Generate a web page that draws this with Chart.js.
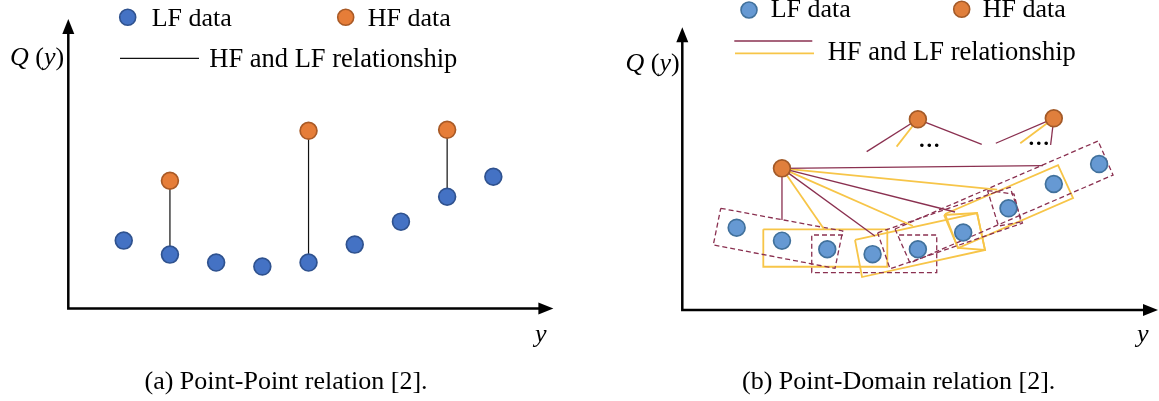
<!DOCTYPE html>
<html>
<head>
<meta charset="utf-8">
<script src="https://cdn.jsdelivr.net/npm/chart.js@4.4.1/dist/chart.umd.min.js"></script>
<style>
  html, body { margin: 0; padding: 0; background: #fff; }
  #wrap { position: relative; width: 1159px; height: 401px; overflow: hidden; background: #fff; }
  .panel { position: absolute; top: 0; height: 401px; }
</style>
</head>
<body>
<div id="wrap">
  <div class="panel" style="left:0;width:580px"><canvas id="pa" width="580" height="401"></canvas></div>
  <div class="panel" style="left:579px;width:580px"><canvas id="pb" width="580" height="401"></canvas></div>
</div>
<script>
// ---- Panel (a): point-point relation ----
const lfX = [1, 2, 3, 4, 5, 6, 7, 8, 9];
const lfQA = [6.8, 5.4, 4.6, 4.2, 4.6, 6.4, 8.7, 11.2, 13.2];
const hfXA = [2, 5, 8];
const hfQA = [12.8, 17.8, 17.9];

// ---- Panel (b): point-domain relation ----
const lfQB = [8.24, 6.94, 6.08, 5.59, 6.08, 7.76, 10.18, 12.61, 14.61];
const hfXB = [2, 5, 8];
const hfQB = [14.18, 19.09, 19.19];

// links: [HF index, end x, end Q]
const maroonEnds = [
  [0, 2.0, 9.01], [0, 4.05, 7.41], [0, 5.82, 9.81], [0, 7.76, 14.46],
  [1, 3.87, 15.85], [1, 6.41, 16.57],
  [2, 6.72, 16.69], [2, 7.93, 16.52]
];
const yellowEnds = [
  [0, 2.93, 8.08], [0, 4.89, 8.41], [0, 6.75, 12.06],
  [1, 4.53, 16.35],
  [2, 7.26, 16.69]
];

// LF domains as outlines (x / Q); closed ones repeat their first corner
const dashedDomains = [
  [[0.648, 10.18], [3.341, 7.91], [3.171, 4.17], [0.484, 6.51], [0.648, 10.18]],
  [[3.347, 7.51], [2.657, 7.51], [2.657, 3.75], [5.416, 3.75], [5.416, 7.51], [4.533, 7.51]],
  [[4.111, 7.73], [7.034, 12.29], [7.308, 8.69], [4.385, 4.12], [4.111, 7.73]],
  [[6.537, 11.96], [7.122, 11.61], [7.277, 8.81], [6.780, 8.41], [6.537, 11.96]],
  [[4.495, 8.11], [8.977, 16.92], [9.308, 13.51], [4.826, 4.70], [4.495, 8.11]]
];
const solidDomains = [
  [[1.588, 8.08], [4.325, 8.08], [4.325, 4.33], [1.588, 4.33], [1.588, 8.08]],
  [[3.612, 7.01], [6.306, 9.71], [6.482, 6.01], [3.767, 3.30], [3.612, 7.01]],
  [[5.577, 9.51], [6.306, 9.71], [6.482, 6.01], [5.886, 6.21], [5.577, 9.51]],
  [[5.599, 9.61], [8.094, 14.51], [8.425, 11.21], [5.886, 6.21], [5.599, 9.61]]
];
// "..." marks beside the upper HF points
const ellipsisAt = [[5.25, 16.62], [7.67, 16.75]];

const SERIF = '"Liberation Serif", "Times New Roman", serif';
const MAROON = '#8A3050';
const YELLOW = '#F7C548';

// arrowed axes drawn along the chart area edges
const axesArrows = {
  id: 'axesArrows',
  beforeDatasetsDraw(chart) {
    const { ctx, chartArea: { left, right, top, bottom } } = chart;
    ctx.save();
    ctx.strokeStyle = '#000';
    ctx.fillStyle = '#000';
    ctx.lineWidth = 2.5;
    ctx.beginPath();
    ctx.moveTo(left, top + 12);
    ctx.lineTo(left, bottom);
    ctx.lineTo(right - 12, bottom);
    ctx.stroke();
    ctx.beginPath();
    ctx.moveTo(left, top);
    ctx.lineTo(left - 6, top + 15);
    ctx.lineTo(left + 6, top + 15);
    ctx.closePath();
    ctx.fill();
    ctx.beginPath();
    ctx.moveTo(right, bottom);
    ctx.lineTo(right - 15, bottom - 6);
    ctx.lineTo(right - 15, bottom + 6);
    ctx.closePath();
    ctx.fill();
    ctx.restore();
  }
};

// legend glyphs, axis names, caption and the "..." marks
const panelText = {
  id: 'panelText',
  afterDraw(chart, args, opts) {
    const ctx = chart.ctx;
    ctx.save();
    (opts.glyphs || []).forEach(g => {
      if (g.kind === 'dot') {
        ctx.beginPath();
        ctx.arc(g.x, g.y, 8, 0, Math.PI * 2);
        ctx.fillStyle = g.fill;
        ctx.fill();
        ctx.lineWidth = 1.6;
        ctx.strokeStyle = g.stroke;
        ctx.stroke();
      } else {
        ctx.beginPath();
        ctx.moveTo(g.x1, g.y);
        ctx.lineTo(g.x2, g.y);
        ctx.lineWidth = g.w;
        ctx.strokeStyle = g.color;
        ctx.stroke();
      }
    });
    ctx.fillStyle = '#000';
    ctx.textBaseline = 'alphabetic';
    (opts.items || []).forEach(item => {
      let x = item.x;
      item.runs.forEach(r => {
        ctx.font = (r.it ? 'italic ' : '') + item.size + 'px ' + SERIF;
        ctx.fillText(r.t, x, item.y);
        x += ctx.measureText(r.t).width;
      });
    });
    if (opts.ellipsis) {
      const xs = chart.scales.x, ys = chart.scales.y;
      ctx.font = 'bold 22px ' + SERIF;
      ctx.textAlign = 'center';
      ctx.textBaseline = 'middle';
      opts.ellipsis.forEach(([vx, vq]) => {
        ctx.fillText('\u2026', xs.getPixelForValue(vx), ys.getPixelForValue(vq) - 3);
      });
    }
    ctx.restore();
  }
};

function plain(t) { return { t: t, it: false }; }
function ital(t) { return { t: t, it: true }; }
const qLabel = [ital('Q'), plain(' ('), ital('y'), plain(')')];

function baseOptions(pad, xMax, yMax, textOpts) {
  return {
    responsive: false,
    animation: false,
    events: [],
    layout: { padding: pad, autoPadding: false },
    plugins: {
      legend: { display: false },
      tooltip: { enabled: false },
      panelText: textOpts
    },
    scales: {
      x: { type: 'linear', min: -0.2, max: xMax, display: false },
      y: { type: 'linear', min: 0, max: yMax, display: false }
    }
  };
}

function pts(xs, qs) { return xs.map((x, i) => ({ x: x, y: qs[i] })); }
function segment(data, color, width, dash) {
  return {
    data: data, showLine: true, fill: false, tension: 0, clip: false,
    borderColor: color, borderWidth: width, borderDash: dash || [],
    pointRadius: 0, pointHoverRadius: 0
  };
}
function pointSet(data, fill, stroke) {
  return {
    data: data, showLine: false, pointRadius: 8.4, pointHoverRadius: 8.4, clip: false,
    backgroundColor: fill, borderColor: stroke, borderWidth: 1.7
  };
}

// ---------- chart (a) ----------
const dsA = [
  pointSet(pts(hfXA, hfQA), '#E67D38', '#A95A26'),
  pointSet(pts(lfX, lfQA), '#4472C4', '#2F528F')
];
hfXA.forEach((x, i) => {
  dsA.push(segment([{ x: x, y: hfQA[i] }, { x: x, y: lfQA[lfX.indexOf(x)] }], '#111', 1.2));
});

new Chart(document.getElementById('pa'), {
  type: 'scatter',
  data: { datasets: dsA },
  options: baseOptions({ left: 68.3, right: 26.6, top: 19, bottom: 92.5 }, 10.3, 29, {
    glyphs: [
      { kind: 'dot', x: 127.7, y: 17.3, fill: '#4472C4', stroke: '#2F528F' },
      { kind: 'dot', x: 345.7, y: 17.3, fill: '#E67D38', stroke: '#A95A26' },
      { kind: 'line', x1: 120, x2: 199, y: 58.3, w: 1.2, color: '#111' }
    ],
    items: [
      { x: 151.7, y: 26, size: 26, runs: [plain('LF data')] },
      { x: 367.7, y: 26, size: 26, runs: [plain('HF data')] },
      { x: 209.3, y: 66.7, size: 26.5, runs: [plain('HF and LF relationship')] },
      { x: 10, y: 65, size: 26, runs: qLabel },
      { x: 535, y: 342, size: 26, runs: [ital('y')] },
      { x: 144.5, y: 389, size: 26, runs: [plain('(a) Point-Point relation [2].')] }
    ]
  }),
  plugins: [axesArrows, panelText]
});

// ---------- chart (b) ----------
const dsB = [
  pointSet(pts(hfXB, hfQB), '#E07F3C', '#A35A28'),
  pointSet(pts(lfX, lfQB), '#6699D3', '#41719C')
];
maroonEnds.forEach(([h, x, q]) => {
  dsB.push(segment([{ x: hfXB[h], y: hfQB[h] }, { x: x, y: q }], MAROON, 1.3));
});
yellowEnds.forEach(([h, x, q]) => {
  dsB.push(segment([{ x: hfXB[h], y: hfQB[h] }, { x: x, y: q }], YELLOW, 1.8));
});
function outline(corners) {
  return corners.map(([x, q]) => ({ x: x, y: q }));
}
dashedDomains.forEach(c => dsB.push(segment(outline(c), MAROON, 1.3, [5, 3])));
solidDomains.forEach(c => dsB.push(segment(outline(c), YELLOW, 1.8)));

new Chart(document.getElementById('pb'), {
  type: 'scatter',
  data: { datasets: dsB },
  options: baseOptions({ left: 103.3, right: 1, top: 27.3, bottom: 91 }, 10.3, 28.3, {
    glyphs: [
      { kind: 'dot', x: 170, y: 10, fill: '#6699D3', stroke: '#41719C' },
      { kind: 'dot', x: 382.7, y: 9.3, fill: '#E07F3C', stroke: '#A35A28' },
      { kind: 'line', x1: 155.3, x2: 233.3, y: 41, w: 1.3, color: MAROON },
      { kind: 'line', x1: 156, x2: 235, y: 53.3, w: 1.8, color: YELLOW }
    ],
    items: [
      { x: 191.7, y: 17.3, size: 26, runs: [plain('LF data')] },
      { x: 403.7, y: 17.3, size: 26, runs: [plain('HF data')] },
      { x: 248.7, y: 60, size: 26.5, runs: [plain('HF and LF relationship')] },
      { x: 46.5, y: 71, size: 26, runs: qLabel },
      { x: 558, y: 342, size: 26, runs: [ital('y')] },
      { x: 163, y: 389, size: 26, runs: [plain('(b) Point-Domain relation [2].')] }
    ],
    ellipsis: ellipsisAt
  }),
  plugins: [axesArrows, panelText]
});
</script>
</body>
</html>
